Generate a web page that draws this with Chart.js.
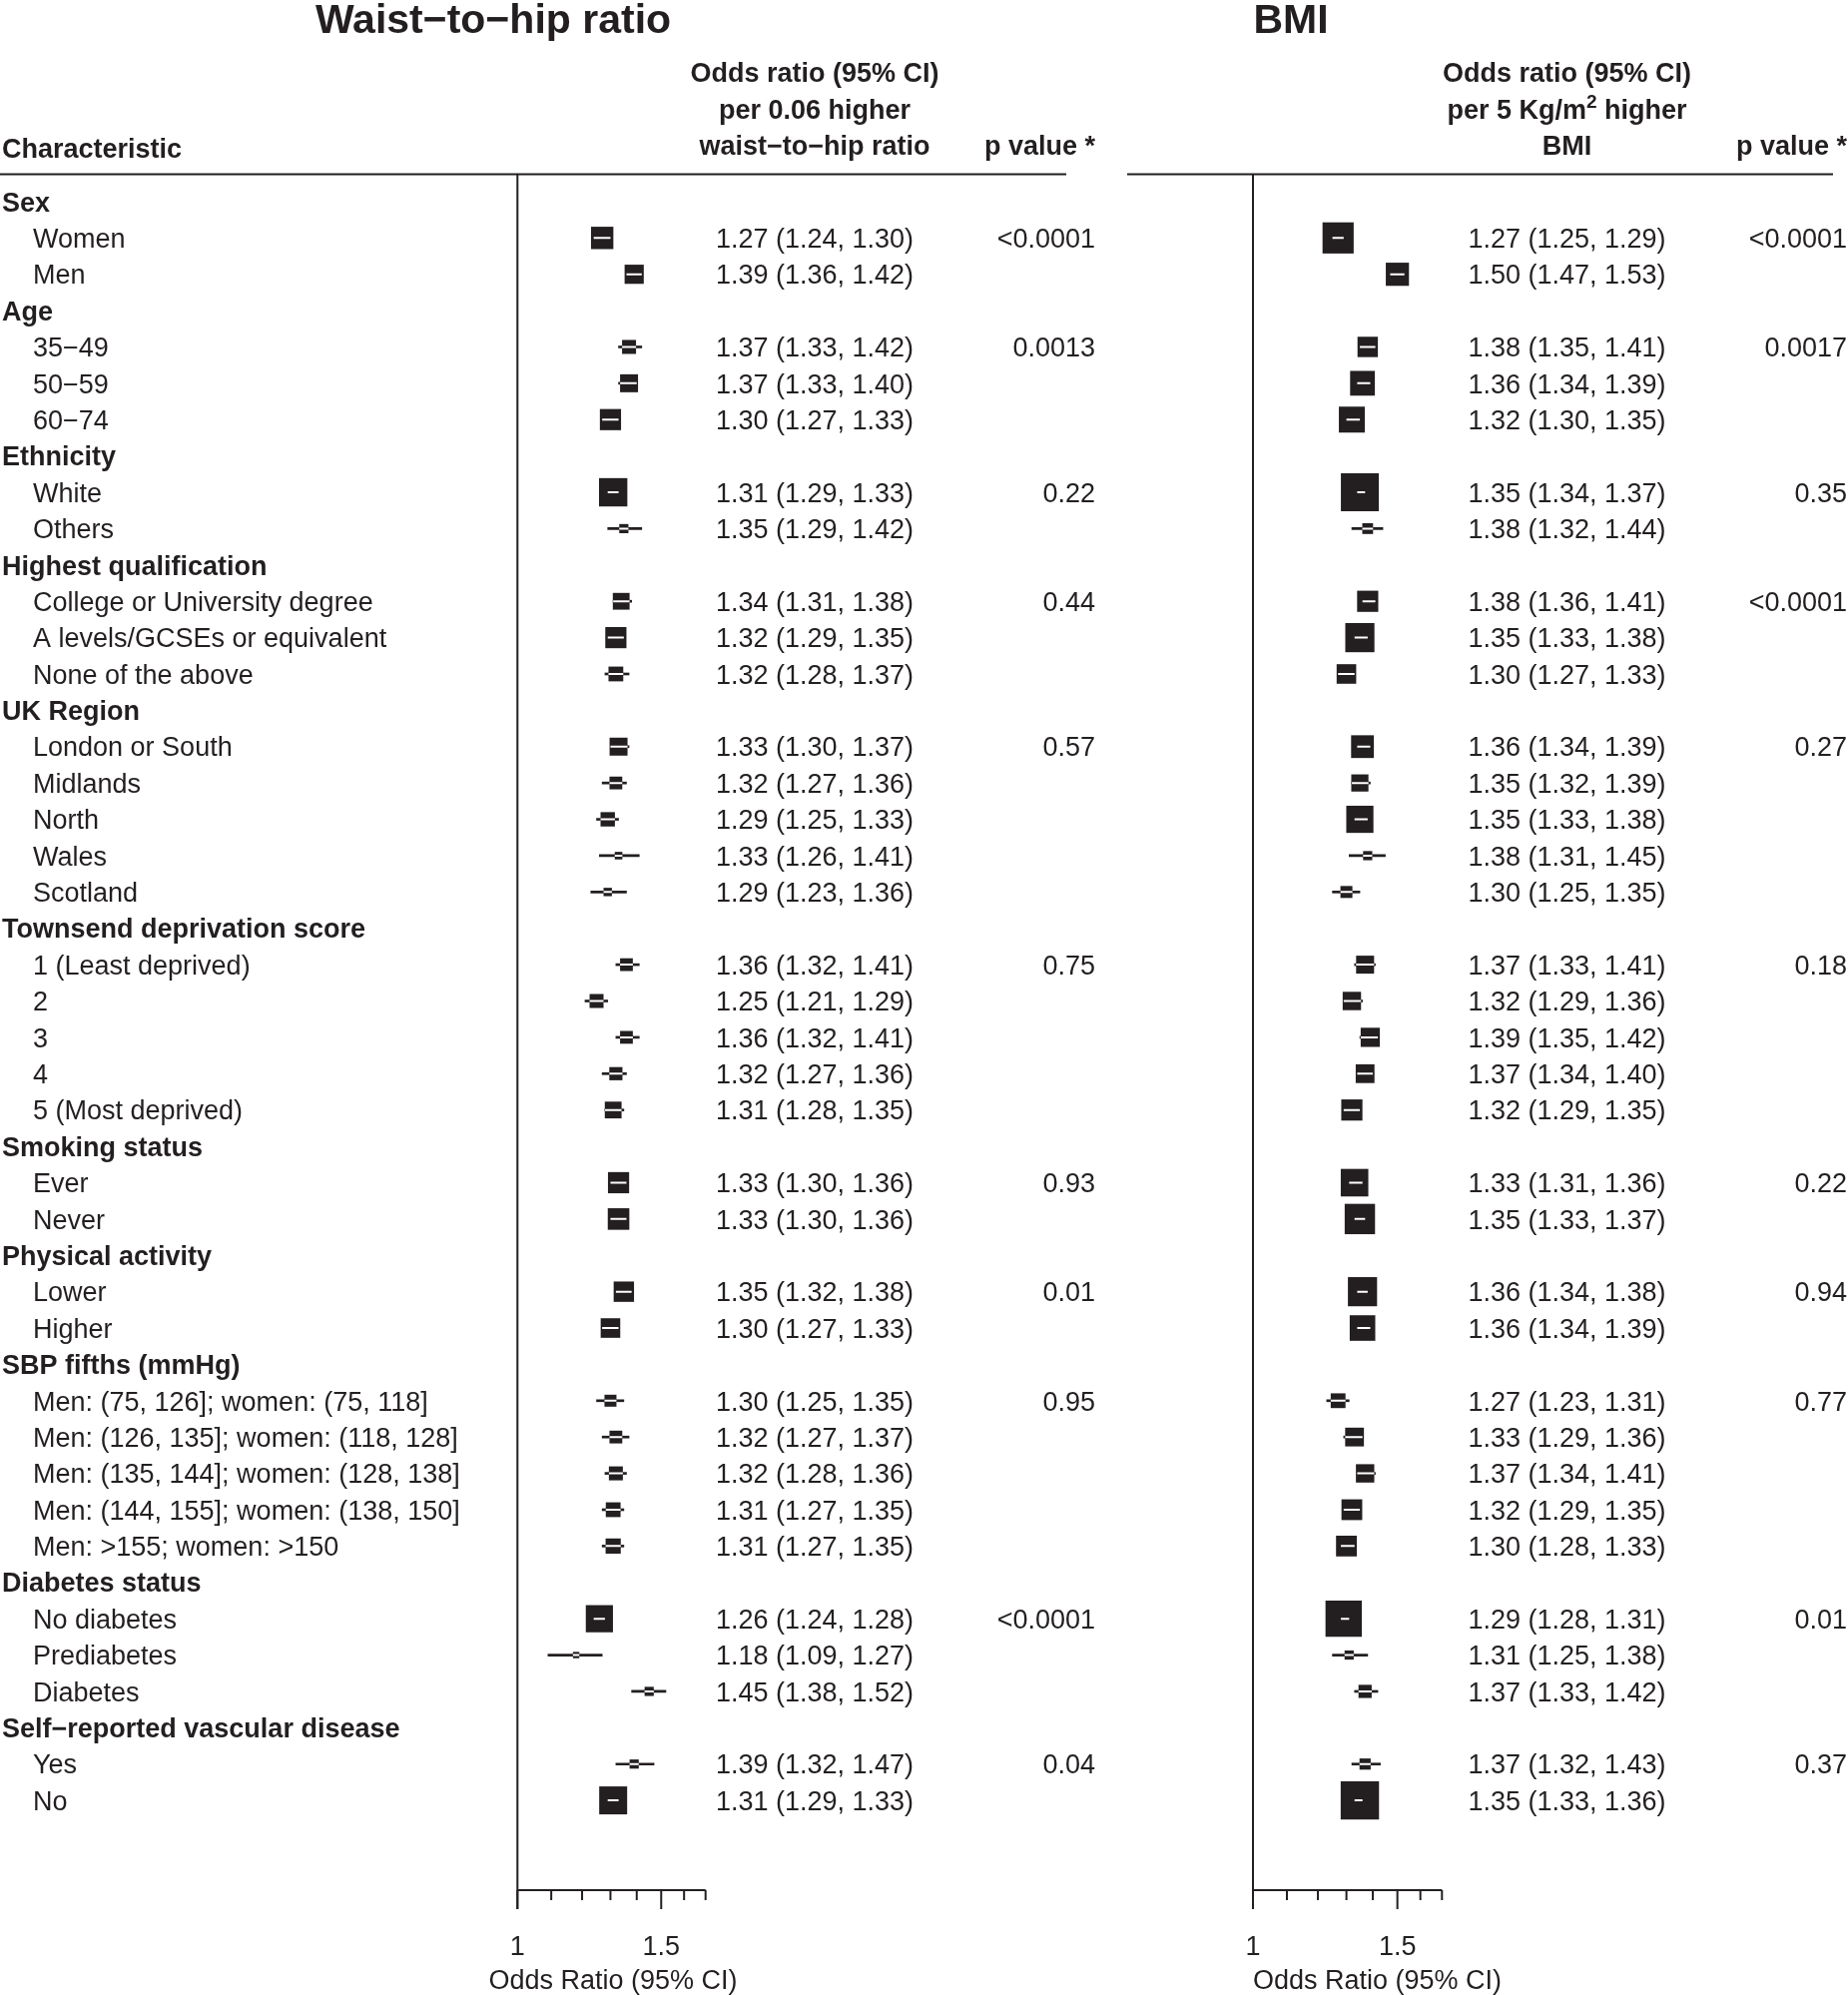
<!DOCTYPE html>
<html>
<head>
<meta charset="utf-8">
<script src="https://cdn.jsdelivr.net/npm/chart.js@4.4.1/dist/chart.umd.min.js"></script>
<style>
html,body{margin:0;padding:0;background:#fff;width:1851px;height:1998px;overflow:hidden}
canvas{position:absolute;top:0}
</style>
</head>
<body>
<canvas id="whr" width="1120" height="1998" style="left:0px"></canvas>
<canvas id="bmi" width="731" height="1998" style="left:1120px"></canvas>
<script>
// ---------------- DATA ----------------
const characteristics = [
  'Sex','Women','Men',
  'Age','35\u221249','50\u221259','60\u221274',
  'Ethnicity','White','Others',
  'Highest qualification','College or University degree','A levels/GCSEs or equivalent','None of the above',
  'UK Region','London or South','Midlands','North','Wales','Scotland',
  'Townsend deprivation score','1 (Least deprived)','2','3','4','5 (Most deprived)',
  'Smoking status','Ever','Never',
  'Physical activity','Lower','Higher',
  'SBP fifths (mmHg)','Men: (75, 126]; women: (75, 118]','Men: (126, 135]; women: (118, 128]','Men: (135, 144]; women: (128, 138]','Men: (144, 155]; women: (138, 150]','Men: >155; women: >150',
  'Diabetes status','No diabetes','Prediabetes','Diabetes',
  'Self\u2212reported vascular disease','Yes','No'
];

// Waist-to-hip ratio: odds ratio, lower CI, upper CI, p value, relative weight (box size)
const whrOR = [null,1.27,1.39, null,1.37,1.37,1.30, null,1.31,1.35, null,1.34,1.32,1.32, null,1.33,1.32,1.29,1.33,1.29, null,1.36,1.25,1.36,1.32,1.31, null,1.33,1.33, null,1.35,1.30, null,1.30,1.32,1.32,1.31,1.31, null,1.26,1.18,1.45, null,1.39,1.31];
const whrLo = [null,1.24,1.36, null,1.33,1.33,1.27, null,1.29,1.29, null,1.31,1.29,1.28, null,1.30,1.27,1.25,1.26,1.23, null,1.32,1.21,1.32,1.27,1.28, null,1.30,1.30, null,1.32,1.27, null,1.25,1.27,1.28,1.27,1.27, null,1.24,1.09,1.38, null,1.32,1.29];
const whrHi = [null,1.30,1.42, null,1.42,1.40,1.33, null,1.33,1.42, null,1.38,1.35,1.37, null,1.37,1.36,1.33,1.41,1.36, null,1.41,1.29,1.41,1.36,1.35, null,1.36,1.36, null,1.38,1.33, null,1.35,1.37,1.36,1.35,1.35, null,1.28,1.27,1.52, null,1.47,1.33];
const whrP  = [null,'<0.0001',null, null,'0.0013',null,null, null,'0.22',null, null,'0.44',null,null, null,'0.57',null,null,null,null, null,'0.75',null,null,null,null, null,'0.93',null, null,'0.01',null, null,'0.95',null,null,null,null, null,'<0.0001',null,null, null,'0.04',null];
const whrWeight = [null,.56,.48, null,.35,.45,.53, null,.71,.23, null,.42,.53,.37, null,.45,.32,.36,.19,.21, null,.32,.35,.32,.33,.42, null,.53,.54, null,.51,.49, null,.30,.32,.35,.37,.38, null,.68,.16,.23, null,.23,.70];

// BMI
const bmiOR = [null,1.27,1.50, null,1.38,1.36,1.32, null,1.35,1.38, null,1.38,1.35,1.30, null,1.36,1.35,1.35,1.38,1.30, null,1.37,1.32,1.39,1.37,1.32, null,1.33,1.35, null,1.36,1.36, null,1.27,1.33,1.37,1.32,1.30, null,1.29,1.31,1.37, null,1.37,1.35];
const bmiLo = [null,1.25,1.47, null,1.35,1.34,1.30, null,1.34,1.32, null,1.36,1.33,1.27, null,1.34,1.32,1.33,1.31,1.25, null,1.33,1.29,1.35,1.34,1.29, null,1.31,1.33, null,1.34,1.34, null,1.23,1.29,1.34,1.29,1.28, null,1.28,1.25,1.33, null,1.32,1.33];
const bmiHi = [null,1.29,1.53, null,1.41,1.39,1.35, null,1.37,1.44, null,1.41,1.38,1.33, null,1.39,1.39,1.38,1.45,1.35, null,1.41,1.36,1.42,1.40,1.35, null,1.36,1.37, null,1.38,1.39, null,1.31,1.36,1.41,1.35,1.33, null,1.31,1.38,1.42, null,1.43,1.36];
const bmiP  = [null,'<0.0001',null, null,'0.0017',null,null, null,'0.35',null, null,'<0.0001',null,null, null,'0.27',null,null,null,null, null,'0.18',null,null,null,null, null,'0.22',null, null,'0.94',null, null,'0.77',null,null,null,null, null,'0.01',null,null, null,'0.37',null];
const bmiWeight = [null,.78,.58, null,.51,.62,.65, null,.95,.27, null,.53,.73,.49, null,.57,.43,.68,.23,.30, null,.45,.46,.48,.47,.53, null,.69,.76, null,.73,.64, null,.37,.47,.46,.52,.52, null,.91,.23,.33, null,.28,.96];

// Axis ticks
const axisTicks = [1, 1.1, 1.2, 1.3, 1.4, 1.5, 1.6, 1.7];
const axisLabelled = [1, 1.5];
const axisTitle = 'Odds Ratio (95% CI)';

// ---------------- STYLE ----------------
const INK = '#231f20';
const FONT = '"Liberation Sans", Arial, Helvetica, sans-serif';
const BOX_MAX = 40;
const ROW_FS = 27;
const BASE_OFF = 9.7;
const HEADER_BASES = [82.3, 119.2, 155.2];

function fmt(v){ return v.toFixed(2); }

function forestPlugin(p) {
  return {
    id: 'forest_' + p.id,
    afterDatasetsDraw(chart) {
      const {ctx, scales:{x, y}} = chart;
      p.or.forEach((v, i) => {
        if (v == null) return;
        const cx = x.getPixelForValue(v), cy = y.getPixelForValue(i);
        const h = p.weight[i] * BOX_MAX / 2;
        ctx.save();
        ctx.beginPath(); ctx.rect(cx - h, cy - h, 2 * h, 2 * h); ctx.clip();
        ctx.strokeStyle = '#ffffff'; ctx.lineWidth = 2;
        ctx.beginPath();
        ctx.moveTo(x.getPixelForValue(p.lo[i]), cy);
        ctx.lineTo(x.getPixelForValue(p.hi[i]), cy);
        ctx.stroke();
        ctx.restore();
      });
    },
    afterDraw(chart) {
      const {ctx, scales:{x, y}, chartArea} = chart;
      const X = v => v - p.offsetX;
      ctx.save();
      ctx.fillStyle = INK; ctx.strokeStyle = INK;
      ctx.textBaseline = 'alphabetic';

      // Title
      ctx.font = 'bold 41px ' + FONT; ctx.textAlign = 'center';
      ctx.fillText(p.title, X(p.titleX), 33);

      // Header
      ctx.font = 'bold 27px ' + FONT;
      p.header.forEach((line, k) => {
        const base = HEADER_BASES[k];
        if (typeof line === 'string') {
          ctx.textAlign = 'center';
          ctx.fillText(line, X(p.orX), base);
        } else {
          let total = 0;
          const widths = line.map(([t, sup]) => {
            ctx.font = (sup ? 'bold 19px ' : 'bold 27px ') + FONT;
            const w = ctx.measureText(t).width; total += w; return w;
          });
          let cur = X(p.orX) - total / 2;
          ctx.textAlign = 'left';
          line.forEach(([t, sup], j) => {
            ctx.font = (sup ? 'bold 19px ' : 'bold 27px ') + FONT;
            ctx.fillText(t, cur, sup ? base - 11 : base);
            cur += widths[j];
          });
          ctx.font = 'bold 27px ' + FONT;
        }
      });
      ctx.textAlign = 'right';
      ctx.fillText('p value *', X(p.pX), HEADER_BASES[2]);
      if (p.showLabels) {
        ctx.textAlign = 'left';
        ctx.fillText('Characteristic', 2, 157.5);
      }

      // Header rule
      ctx.lineWidth = 2;
      ctx.beginPath();
      ctx.moveTo(X(p.ruleL), 174.5); ctx.lineTo(X(p.ruleR), 174.5);
      ctx.stroke();

      // Vertical reference line at OR = 1
      const x1 = x.getPixelForValue(1);
      const axY = chartArea.bottom;
      ctx.beginPath();
      ctx.moveTo(x1, 174.5); ctx.lineTo(x1, axY + 19);
      ctx.stroke();

      // Axis line and ticks
      ctx.beginPath();
      ctx.moveTo(x.getPixelForValue(axisTicks[0]), axY);
      ctx.lineTo(x.getPixelForValue(axisTicks[axisTicks.length - 1]), axY);
      ctx.stroke();
      axisTicks.forEach(t => {
        const tx = x.getPixelForValue(t);
        const len = axisLabelled.includes(t) ? 19 : 10;
        ctx.beginPath(); ctx.moveTo(tx, axY); ctx.lineTo(tx, axY + len); ctx.stroke();
      });
      ctx.font = '27px ' + FONT; ctx.textAlign = 'center';
      axisLabelled.forEach(t => ctx.fillText(String(t), x.getPixelForValue(t), 1958));
      if (p.axisTitleAlign === 'left') {
        ctx.textAlign = 'left';
        ctx.fillText(axisTitle, x1, 1992);
      } else {
        ctx.textAlign = 'center';
        ctx.fillText(axisTitle, X(p.axisTitleX), 1992);
      }

      // Rows
      characteristics.forEach((lab, i) => {
        const base = y.getPixelForValue(i) + BASE_OFF;
        const heading = p.or[i] == null;
        if (p.showLabels) {
          ctx.textAlign = 'left';
          ctx.font = (heading ? 'bold ' : '') + ROW_FS + 'px ' + FONT;
          ctx.fillText(lab, heading ? 2 : 33, base);
        }
        if (!heading) {
          ctx.font = ROW_FS + 'px ' + FONT;
          ctx.textAlign = 'center';
          ctx.fillText(fmt(p.or[i]) + ' (' + fmt(p.lo[i]) + ', ' + fmt(p.hi[i]) + ')', X(p.orX), base);
          if (p.p[i]) {
            ctx.textAlign = 'right';
            ctx.fillText(p.p[i], X(p.pX), base);
          }
        }
      });
      ctx.restore();
    }
  };
}

function buildPanel(p) {
  const boxes = [], cis = [];
  p.or.forEach((v, i) => {
    if (v == null) return;
    boxes.push({x: v, y: i, w: p.weight[i]});
    cis.push({y: i, x: [p.lo[i], p.hi[i]]});
  });
  return new Chart(document.getElementById(p.id), {
    data: {
      datasets: [
        {
          type: 'scatter', data: boxes, order: 0, clip: false,
          pointStyle: 'rect',
          pointRadius: c => c.raw ? c.raw.w * BOX_MAX / Math.SQRT2 : 0,
          pointHoverRadius: c => c.raw ? c.raw.w * BOX_MAX / Math.SQRT2 : 0,
          pointBackgroundColor: INK, pointBorderWidth: 0, pointHoverBorderWidth: 0,
          backgroundColor: INK, borderWidth: 0, showLine: false
        },
        {
          type: 'bar', indexAxis: 'y', data: cis, order: 1, clip: false,
          backgroundColor: INK, borderWidth: 0, barThickness: 2, borderSkipped: false
        }
      ]
    },
    options: {
      responsive: false, animation: false, devicePixelRatio: 1, events: [],
      layout: {padding: {left: p.padL, right: p.padR, top: 175, bottom: 105}},
      plugins: {legend: {display: false}, tooltip: {enabled: false}},
      scales: {
        x: {type: 'logarithmic', min: 1, max: 1.7, bounds: 'data', offset: false, display: false},
        y: {type: 'linear', min: -0.739, max: 46.47, reverse: true, bounds: 'data', offset: false, grace: 0, display: false}
      }
    },
    plugins: [forestPlugin(p)]
  });
}

buildPanel({
  id: 'whr', offsetX: 0, padL: 518.3, padR: 1120 - 706.7,
  or: whrOR, lo: whrLo, hi: whrHi, p: whrP, weight: whrWeight,
  title: 'Waist\u2212to\u2212hip ratio', titleX: 494,
  header: ['Odds ratio (95% CI)', 'per 0.06 higher', 'waist\u2212to\u2212hip ratio'],
  orX: 816, pX: 1097, ruleL: 0, ruleR: 1068, showLabels: true,
  axisTitleAlign: 'center', axisTitleX: 614
});

buildPanel({
  id: 'bmi', offsetX: 1120, padL: 1255 - 1120, padR: 1851 - 1444.3,
  or: bmiOR, lo: bmiLo, hi: bmiHi, p: bmiP, weight: bmiWeight,
  title: 'BMI', titleX: 1293,
  header: ['Odds ratio (95% CI)', [['per 5 Kg/m', 0], ['2', 1], [' higher', 0]], 'BMI'],
  orX: 1569.5, pX: 1850, ruleL: 1129, ruleR: 1836, showLabels: false,
  axisTitleAlign: 'left'
});
</script>
</body>
</html>
